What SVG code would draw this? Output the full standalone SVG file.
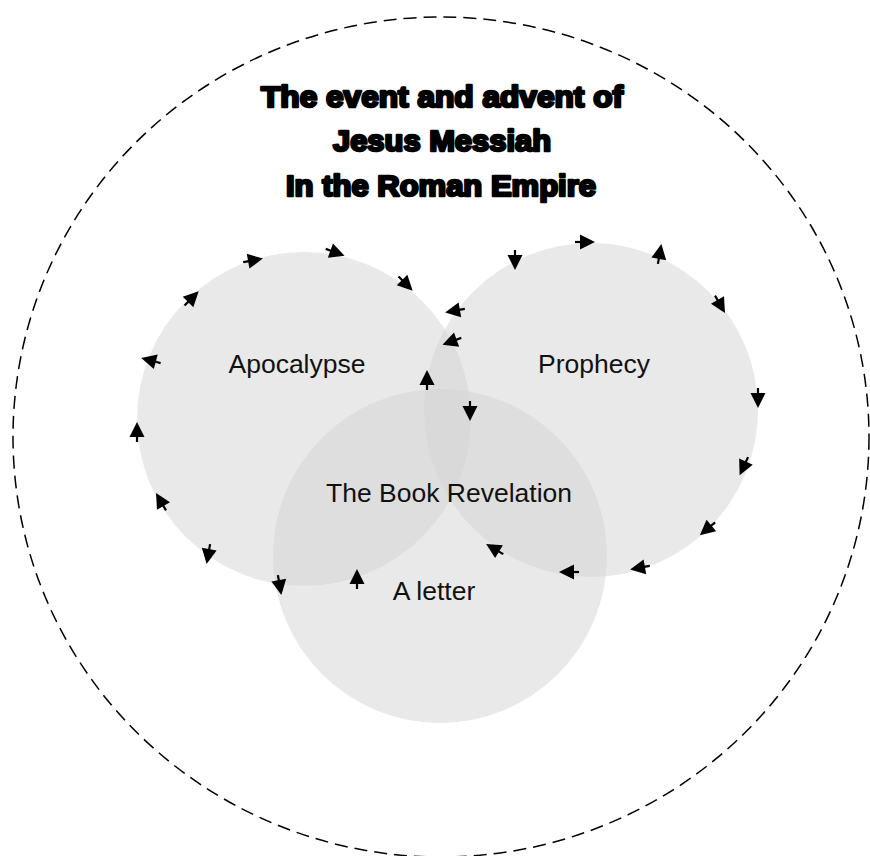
<svg xmlns="http://www.w3.org/2000/svg" xmlns:xlink="http://www.w3.org/1999/xlink" width="870" height="856" viewBox="0 0 870 856">
  <style>
    .bg { fill: #ffffff; }
    .outer { fill: none; stroke: #000; stroke-width: 1.5; stroke-dasharray: 13 7; }
    .disc { fill: #d3d3d3; fill-opacity: 0.5; stroke: none; }
    .lbl { font-family: "Liberation Sans", Arial, sans-serif; font-size: 26.5px; fill: #111; text-anchor: middle; }
    .title { font-family: "Liberation Sans", Arial, sans-serif; font-weight: bold; font-size: 30px; fill: #000; stroke: #000; stroke-width: 2.6; stroke-linejoin: round; text-anchor: middle; }
  </style>
  <defs>
    <g id="arr">
      <path d="M8,0 L-7,-7.5 L-7,7.5 Z" fill="#000"/>
      <line x1="-12" y1="0" x2="-6" y2="0" stroke="#000" stroke-width="2.2"/>
    </g>
  </defs>
  <rect class="bg" x="0" y="0" width="870" height="856"/>
  <g id="boundary">
    <ellipse class="outer" cx="441" cy="437" rx="428" ry="420"/>
  </g>
  <g id="title">
    <text class="title" x="442" y="107" textLength="362" lengthAdjust="spacingAndGlyphs">The event and advent of</text>
    <text class="title" x="442" y="151" textLength="218" lengthAdjust="spacingAndGlyphs">Jesus Messiah</text>
    <text class="title" x="441" y="196" textLength="310" lengthAdjust="spacingAndGlyphs">In the Roman Empire</text>
  </g>
  <g id="node-apocalypse">
    <circle class="disc" cx="304" cy="419" r="167"/>
    <text class="lbl" x="297" y="373">Apocalypse</text>
  </g>
  <g id="node-prophecy">
    <circle class="disc" cx="591" cy="410" r="167"/>
    <text class="lbl" x="594" y="373">Prophecy</text>
  </g>
  <g id="node-letter">
    <circle class="disc" cx="440" cy="556" r="167"/>
    <text class="lbl" x="434" y="600">A letter</text>
  </g>
  <g id="node-book">
    <text class="lbl" x="449" y="502">The Book Revelation</text>
  </g>
  <g id="connectors">
    <use xlink:href="#arr" transform="translate(149,360) rotate(195)"/>
    <use xlink:href="#arr" transform="translate(137,430) rotate(-90)"/>
    <use xlink:href="#arr" transform="translate(160,500) rotate(-120)"/>
    <use xlink:href="#arr" transform="translate(208,556) rotate(100)"/>
    <use xlink:href="#arr" transform="translate(280,587) rotate(80)"/>
    <use xlink:href="#arr" transform="translate(357,577) rotate(-90)"/>
    <use xlink:href="#arr" transform="translate(427,378) rotate(-90)"/>
    <use xlink:href="#arr" transform="translate(450,342) rotate(160)"/>
    <use xlink:href="#arr" transform="translate(453,311) rotate(170)"/>
    <use xlink:href="#arr" transform="translate(407,285) rotate(45)"/>
    <use xlink:href="#arr" transform="translate(337,253) rotate(20)"/>
    <use xlink:href="#arr" transform="translate(255,260) rotate(-10)"/>
    <use xlink:href="#arr" transform="translate(193,297) rotate(-45)"/>
    <use xlink:href="#arr" transform="translate(515,262) rotate(90)"/>
    <use xlink:href="#arr" transform="translate(587,242) rotate(0)"/>
    <use xlink:href="#arr" transform="translate(660,252) rotate(-80)"/>
    <use xlink:href="#arr" transform="translate(721,306) rotate(60)"/>
    <use xlink:href="#arr" transform="translate(758,400) rotate(90)"/>
    <use xlink:href="#arr" transform="translate(743,468) rotate(115)"/>
    <use xlink:href="#arr" transform="translate(706,530) rotate(140)"/>
    <use xlink:href="#arr" transform="translate(638,568) rotate(170)"/>
    <use xlink:href="#arr" transform="translate(567,572) rotate(180)"/>
    <use xlink:href="#arr" transform="translate(493,548) rotate(-149)"/>
    <use xlink:href="#arr" transform="translate(470,413) rotate(90)"/>
  </g>
</svg>
